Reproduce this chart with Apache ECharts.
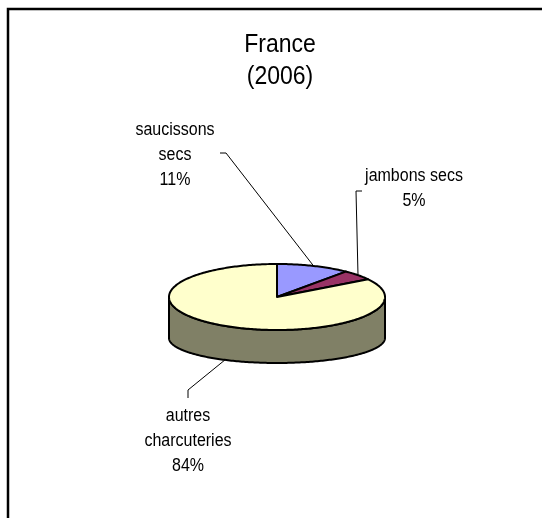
<!DOCTYPE html>
<html><head><meta charset="utf-8">
<script src="https://cdn.jsdelivr.net/npm/echarts@6/dist/echarts.min.js"></script>
<style>html,body{margin:0;padding:0;background:#fff}#c{width:542px;height:518px}</style>
</head><body><div id="c"></div>
<script>
// ---- data ----
const categories = ['saucissons secs', 'jambons secs', 'autres charcuteries'];
const labelNames = ['saucissons\nsecs', 'jambons secs', 'autres\ncharcuteries'];
const values = [11, 5, 84];
const titleLines = ['France', '(2006)'];

// ---- styles / layout ----
const colors = ['#9999FF', '#993366', '#FFFFCC'];
const sideColor = '#808066';
const geo = { cx: 277, cy: 297, rx: 108, ry: 33, cyB: 338, ryB: 25 };
const labelPos = [[175, 155], [414, 189], [188, 441]];
const leaderBends = [[[220, 153], [226, 153]], [[362, 191], [356, 191]], [[188, 398], [188, 390]]];
const FONT = 'Liberation Sans, Arial, sans-serif';
const TEXT_STRETCH = 1.13;

const total = values.reduce((a, b) => a + b, 0);
const cum = [];
values.reduce((acc, v, i) => { cum[i] = acc; return acc + v; }, 0);

function ptTop(th) { return [geo.cx + geo.rx * Math.sin(th), geo.cy - geo.ry * Math.cos(th)]; }
function ptBot(th) { return [geo.cx + geo.rx * Math.sin(th), geo.cyB - geo.ryB * Math.cos(th)]; }
function arc(f, a, b) {
  const n = Math.max(2, Math.ceil(Math.abs(b - a) / (Math.PI / 180)));
  const out = [];
  for (let k = 0; k <= n; k++) out.push(f(a + (b - a) * k / n));
  return out;
}

function renderItem(params, api) {
  const i = params.dataIndex;
  const v = api.value(0);
  const start = cum[i] / total * 2 * Math.PI;
  const end = (cum[i] + v) / total * 2 * Math.PI;
  const children = [];
  const s0 = Math.max(start, Math.PI / 2), s1 = Math.min(end, 1.5 * Math.PI);
  if (s1 > s0) {
    const pts = arc(ptTop, s0, s1).concat(arc(ptBot, s1, s0));
    children.push({ type: 'polygon', shape: { points: pts },
      style: { fill: sideColor, stroke: '#000', lineWidth: 2, lineJoin: 'round' } });
  }
  const topPts = [[geo.cx, geo.cy]].concat(arc(ptTop, start, end));
  children.push({ type: 'polygon', shape: { points: topPts },
    style: { fill: colors[i], stroke: '#000', lineWidth: 2, lineJoin: 'round' } });
  const mid = (start + end) / 2;
  const front = mid > Math.PI / 2 && mid < 1.5 * Math.PI;
  const anchor = front ? ptBot(mid) : ptTop(mid);
  children.push({ type: 'polyline', shape: { points: leaderBends[i].concat([anchor]) },
    style: { stroke: '#000', lineWidth: 1, fill: null } });
  const pct = Math.round(v / total * 100) + '%';
  children.push({ type: 'text', x: labelPos[i][0], y: labelPos[i][1], scaleY: TEXT_STRETCH,
    style: { text: labelNames[i] + '\n' + pct, fill: '#000', fontSize: 16, fontFamily: FONT,
      lineHeight: 25 / TEXT_STRETCH, align: 'center', verticalAlign: 'middle' } });
  return { type: 'group', children };
}

const chart = echarts.init(document.getElementById('c'));
chart.setOption({
  animation: false,
  backgroundColor: '#fff',
  graphic: [
    { type: 'rect', shape: { x: 8, y: 9, width: 600, height: 600 },
      style: { fill: null, stroke: '#000', lineWidth: 2.5 } },
    { type: 'text', x: 280, y: 61, scaleY: TEXT_STRETCH,
      style: { text: titleLines.join('\n'), fill: '#000', fontSize: 23, fontFamily: FONT,
        lineHeight: 32 / TEXT_STRETCH, align: 'center', verticalAlign: 'middle' } }
  ],
  series: [{
    type: 'custom',
    name: 'France (2006)',
    coordinateSystem: 'none',
    renderItem: renderItem,
    data: values.map((v, i) => ({ name: categories[i], value: [v] }))
  }]
});
</script></body></html>
